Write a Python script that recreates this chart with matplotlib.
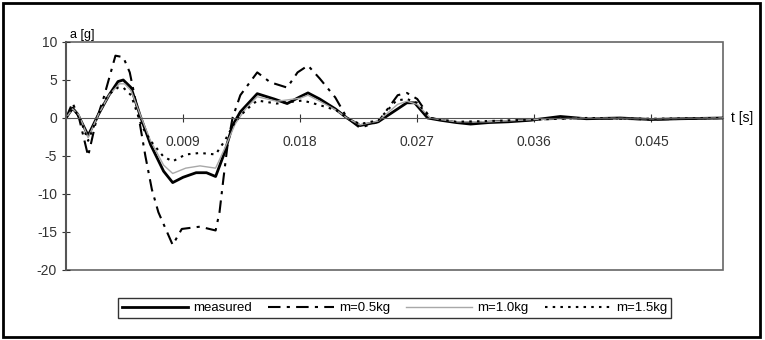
import numpy as np
import matplotlib.pyplot as plt
from matplotlib.patches import Rectangle

plt.rcParams['font.family'] = ['Liberation Sans', 'DejaVu Sans']
plt.rcParams['axes.unicode_minus'] = False

# measured acceleration
t_meas = [0, 0.0005, 0.0009, 0.0017, 0.0025, 0.0033, 0.0040, 0.0044, 0.0050, 0.0057,
          0.0065, 0.0075, 0.0082, 0.0090, 0.0100, 0.0108, 0.0115, 0.0122, 0.0128, 0.0134,
          0.0147, 0.0160, 0.0170, 0.0180, 0.0186, 0.0195, 0.0207, 0.0216, 0.0226, 0.0240,
          0.0255, 0.0262, 0.0268, 0.0278, 0.0288, 0.0300, 0.0311, 0.0325, 0.0340, 0.0357,
          0.0380, 0.0400, 0.0426, 0.0450, 0.0472, 0.0505]
a_meas = [0, 1.3, 0.5, -2.3, 0.5, 3.0, 4.8, 5.0, 4.0, 0.3,
          -3.5, -7.0, -8.5, -7.8, -7.2, -7.2, -7.7, -4.5, -1.0, 0.8,
          3.2, 2.5, 1.9, 2.8, 3.3, 2.5, 1.2, 0.0, -1.0, -0.5,
          1.2, 2.0, 2.0, 0.0, -0.3, -0.6, -0.8, -0.6, -0.5, -0.3,
          0.2, -0.1, 0.0, -0.2, -0.1, 0.0]

# m = 0.5 kg
t_05 = [0, 0.0005, 0.0010, 0.0017, 0.0023, 0.0029, 0.0038, 0.0044, 0.0049, 0.0055,
        0.0061, 0.0066, 0.0071, 0.0082, 0.0089, 0.0103, 0.0115, 0.0118, 0.0121, 0.0124,
        0.0128, 0.0134, 0.0147, 0.0157, 0.0170, 0.0178, 0.0186, 0.0195, 0.0207, 0.0216,
        0.0226, 0.0240, 0.0255, 0.0262, 0.0270, 0.0280, 0.0300, 0.0325, 0.0360, 0.0400,
        0.0450, 0.0505]
a_05 = [0, 2.0, 0.0, -5.0, -0.5, 2.7, 8.2, 8.0, 6.0, 1.0,
        -5.0, -9.4, -12.4, -16.7, -14.6, -14.3, -14.8, -12.4, -8.0, -3.8,
        0.0, 3.0, 6.0, 4.7, 4.0, 6.0, 6.9, 5.2, 2.7, 0.0,
        -1.3, -0.5, 3.0, 3.3, 2.5, 0.0, -0.6, -0.5, -0.2, 0.0,
        -0.2, 0.0]

# m = 1.0 kg
t_10 = [0, 0.0005, 0.0010, 0.0017, 0.0025, 0.0033, 0.0041, 0.0045, 0.0050, 0.0058,
        0.0065, 0.0075, 0.0082, 0.0092, 0.0103, 0.0115, 0.0122, 0.0130, 0.0138, 0.0147,
        0.0162, 0.0180, 0.0186, 0.0195, 0.0208, 0.0216, 0.0226, 0.0240, 0.0255, 0.0262,
        0.0270, 0.0280, 0.0300, 0.0325, 0.0360, 0.0400, 0.0450, 0.0505]
a_10 = [0, 1.2, 0.4, -2.6, 0.5, 3.0, 4.5, 4.5, 3.6, 0.0,
        -3.0, -6.2, -7.3, -6.6, -6.3, -6.6, -4.0, -0.8, 1.2, 2.8,
        2.2, 2.6, 3.0, 2.2, 1.0, 0.0, -0.9, -0.4, 1.8, 2.2,
        1.8, 0.0, -0.5, -0.5, -0.2, 0.0, -0.1, 0.0]

# m = 1.5 kg
t_15 = [0, 0.0005, 0.0010, 0.0017, 0.0025, 0.0032, 0.0040, 0.0044, 0.0050, 0.0058,
        0.0065, 0.0075, 0.0082, 0.0092, 0.0103, 0.0115, 0.0122, 0.0130, 0.0138, 0.0147,
        0.0162, 0.0182, 0.0195, 0.0208, 0.0216, 0.0226, 0.0240, 0.0254, 0.0262, 0.0270,
        0.0280, 0.0300, 0.0325, 0.0360, 0.0400, 0.0450, 0.0505]
a_15 = [0, 1.2, 0.3, -3.0, 0.5, 3.0, 4.0, 4.0, 3.0, -1.0,
        -3.0, -5.1, -5.7, -4.8, -4.6, -4.8, -3.0, -0.5, 1.0, 2.3,
        1.9, 2.3, 1.7, 1.0, 0.0, -0.8, -0.3, 2.3, 2.5, 2.0,
        0.0, -0.5, -0.4, -0.2, 0.0, -0.1, 0.0]

xticks = [0.009, 0.018, 0.027, 0.036, 0.045]
yticks = [-20, -15, -10, -5, 0, 5, 10]

fig = plt.figure(figsize=(7.65, 3.4), dpi=100)
ax = fig.add_axes([0.0863, 0.2059, 0.945 - 0.0863, 0.8765 - 0.2059])

ax.plot(t_meas, a_meas, color='black', lw=2.0, label='measured')
ax.plot(t_05, a_05, color='black', lw=1.5, dashes=[6, 3, 1.5, 3], label='m=0.5kg')
ax.plot(t_10, a_10, color='#a8a8a8', lw=1.0, label='m=1.0kg')
ax.plot(t_15, a_15, color='black', lw=1.5, linestyle=(0, (1.2, 2.5)), label='m=1.5kg')

ax.set_xlim(0, 0.0505)
ax.set_ylim(-20, 10)
ax.set_xticks(xticks)
ax.set_xticklabels(['%.3f' % v for v in xticks])
ax.set_yticks(yticks)

ax.spines['bottom'].set_position(('data', 0))
ax.spines['bottom'].set_color('#555555')
ax.spines['left'].set_color('#555555')
ax.spines['left'].set_linewidth(1.5)
ax.spines['top'].set_visible(False)
ax.spines['right'].set_visible(False)
ax.add_patch(Rectangle((0, 0), 1, 1, transform=ax.transAxes, fill=False,
                       edgecolor='#666666', lw=1.2, clip_on=False, zorder=0))
ax.tick_params(direction='inout', length=6, labelsize=10, colors='#333333')
ax.tick_params(axis='x', pad=9)

ax.text(0.0003, 10.1, 'a [g]', fontsize=9, ha='left', va='bottom')
ax.text(1.012, 0, 't [s]', transform=ax.get_yaxis_transform(), fontsize=10,
        ha='left', va='center')

fig.legend(loc='center', bbox_to_anchor=(0.516, 0.094), ncol=4, fontsize=9.5,
           frameon=True, fancybox=False, edgecolor='black', handlelength=5,
           borderpad=0.3, columnspacing=1.2, handletextpad=0.4)

fig.add_artist(Rectangle((0.004, 0.008), 0.99, 0.984, transform=fig.transFigure,
                         fill=False, edgecolor='black', lw=2.0))

plt.savefig('out.png', dpi=100)
